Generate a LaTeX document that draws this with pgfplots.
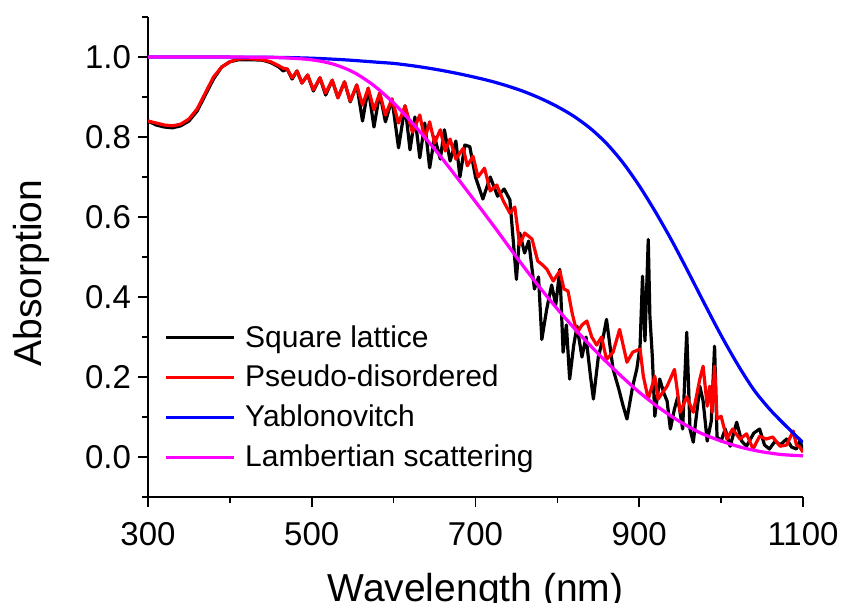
\documentclass[border=0pt]{standalone}
\usepackage{fontspec}
\setmainfont{Liberation Sans}
\usepackage{pgfplots}
\pgfplotsset{compat=1.18}
\definecolor{mag}{RGB}{255,0,255}
\definecolor{pblue}{RGB}{0,0,255}
\definecolor{pred}{RGB}{255,0,0}
\begin{document}
\begin{tikzpicture}
\begin{axis}[
  scale only axis,
  width=327.5pt, height=240pt,
  xmin=300, xmax=1100, ymin=-0.1, ymax=1.1,
  axis x line*=bottom, axis y line*=left,
  axis line style={-, line width=0.8pt},
  xtick={300,500,700,900,1100},
  minor xtick={400,600,800,1000},
  ytick={0,0.2,0.4,0.6,0.8,1.0},
  minor ytick={-0.1,0.1,0.3,0.5,0.7,0.9,1.1},
  /pgf/number format/1000 sep={},
  yticklabel style={/pgf/number format/.cd, fixed, fixed zerofill, precision=1},
  xticklabel style={yshift=-4pt},
  /pgf/number format/assume math mode=true,
  tick align=outside,
  major tick length=5pt, minor tick length=3pt,
  tick style={line width=0.8pt, black},
  ticklabel style={font=\fontsize{16.5}{19}\selectfont},
  label style={font=\fontsize{19.5}{23}\selectfont},
  xlabel={Wavelength (nm)},
  xlabel style={yshift=-7pt},
  ylabel={Absorption},
  ylabel style={yshift=11pt, xshift=-8pt},
  legend style={at={(axis cs:312,0.35)}, anchor=north west, draw=none, fill=none,
    font=\fontsize{15}{18}\selectfont, row sep=3.5pt,
    /tikz/every odd column/.append style={column sep=3pt}},
  legend cell align=left,
  legend image code/.code={\draw[#1, line width=1.5pt] (0pt,0pt) -- (34pt,0pt);},
  every axis plot/.append style={line width=1.6pt, line join=round},
]
\coordinate (bl) at (rel axis cs:0,0);
\coordinate (tr) at (rel axis cs:1,1);
% Square lattice
\addplot[black] table {
300 0.840
310 0.830
320 0.825
330 0.823
340 0.828
350 0.840
360 0.865
370 0.905
380 0.945
390 0.975
400 0.988
410 0.993
420 0.993
430 0.993
440 0.992
450 0.986
460 0.975
465 0.965
470 0.970
476 0.945
482 0.965
488 0.935
495 0.955
502 0.915
510 0.948
517 0.905
525 0.942
532 0.898
540 0.938
547 0.888
555 0.930
562 0.840
569 0.922
576 0.825
583 0.910
590 0.838
598 0.895
606 0.773
614 0.878
620 0.768
626 0.850
632 0.748
638 0.835
644 0.723
650 0.800
657 0.745
662 0.818
669 0.740
676 0.790
681 0.700
687 0.780
693 0.776
700 0.700
709 0.645
718 0.700
727 0.652
735 0.670
742 0.643
750 0.444
754 0.560
760 0.510
765 0.540
772 0.420
777 0.450
781 0.294
787 0.370
793 0.430
798 0.380
803 0.469
807 0.262
811 0.330
815 0.195
820 0.280
824 0.327
830 0.250
835 0.300
840 0.210
844 0.145
850 0.250
856 0.300
860 0.344
868 0.220
875 0.170
880 0.130
885 0.095
892 0.177
897 0.220
901 0.277
904 0.452
907 0.290
911 0.544
913 0.352
916 0.250
919 0.102
925 0.195
930 0.160
934 0.140
938 0.070
943 0.120
947 0.150
953 0.070
958 0.312
962 0.070
966 0.037
974 0.177
978 0.140
983 0.040
988 0.090
992 0.277
995 0.050
1000 0.040
1005 0.070
1011 0.027
1019 0.087
1025 0.040
1031 0.027
1040 0.060
1047 0.070
1053 0.030
1059 0.020
1066 0.040
1072 0.030
1080 0.045
1086 0.025
1092 0.020
1096 0.040
1100 0.020
};
\addlegendentry{Square lattice}
% Pseudo-disordered
\addplot[pred] table {
300 0.840
310 0.835
320 0.830
330 0.828
340 0.832
350 0.845
360 0.870
370 0.910
380 0.950
390 0.975
400 0.988
410 0.995
420 0.996
430 0.995
440 0.993
450 0.988
460 0.978
465 0.972
470 0.970
476 0.948
482 0.965
488 0.935
495 0.955
502 0.918
510 0.948
517 0.910
525 0.942
532 0.898
540 0.938
547 0.890
555 0.930
562 0.880
569 0.922
576 0.868
583 0.910
590 0.855
598 0.895
606 0.835
614 0.878
623 0.812
632 0.855
638 0.795
644 0.838
650 0.785
657 0.818
663 0.765
669 0.795
676 0.745
685 0.772
690 0.728
697 0.752
703 0.700
711 0.722
718 0.665
726 0.680
734 0.640
742 0.610
748 0.625
754 0.530
760 0.560
769 0.545
776 0.490
782 0.480
787 0.470
795 0.440
803 0.465
808 0.420
813 0.415
818 0.360
824 0.310
830 0.330
836 0.340
842 0.300
848 0.280
854 0.300
860 0.244
868 0.262
876 0.319
885 0.237
892 0.262
901 0.270
905 0.202
911 0.145
919 0.202
923 0.145
934 0.177
943 0.219
950 0.112
958 0.150
966 0.112
974 0.195
978 0.227
983 0.127
986 0.177
989 0.112
992 0.227
995 0.095
1000 0.102
1007 0.045
1014 0.070
1023 0.045
1031 0.058
1039 0.020
1047 0.052
1055 0.045
1063 0.050
1072 0.027
1080 0.030
1088 0.065
1092 0.030
1096 0.025
1100 0.012
};
\addlegendentry{Pseudo-disordered}
% Yablonovitch
\addplot[pblue, smooth] table {
300 1.000
340 1.000
380 1.000
420 0.9995
460 0.999
500 0.997
540 0.993
580 0.987
600 0.984
620 0.979
640 0.973
660 0.966
680 0.958
700 0.949
720 0.939
740 0.927
760 0.913
780 0.896
800 0.876
820 0.852
840 0.822
860 0.784
880 0.736
900 0.678
920 0.612
940 0.540
960 0.462
980 0.382
1000 0.304
1020 0.232
1040 0.168
1060 0.118
1080 0.076
1100 0.036
};
\addlegendentry{Yablonovitch}
% Lambertian
\addplot[mag, smooth] table {
300 1.000
350 1.000
400 1.000
450 0.999
475 0.997
500 0.993
525 0.983
550 0.963
575 0.930
600 0.885
625 0.830
650 0.770
675 0.705
700 0.638
725 0.570
750 0.500
775 0.433
800 0.370
825 0.312
850 0.258
875 0.208
900 0.162
925 0.122
950 0.088
975 0.060
1000 0.040
1025 0.024
1050 0.013
1075 0.006
1100 0.003
};
\addlegendentry{Lambertian scattering}
\end{axis}
\pgfresetboundingbox
\path ([xshift=-74pt,yshift=-52.5pt]bl) rectangle ([xshift=19pt,yshift=8.5pt]tr);
\end{tikzpicture}
\end{document}
